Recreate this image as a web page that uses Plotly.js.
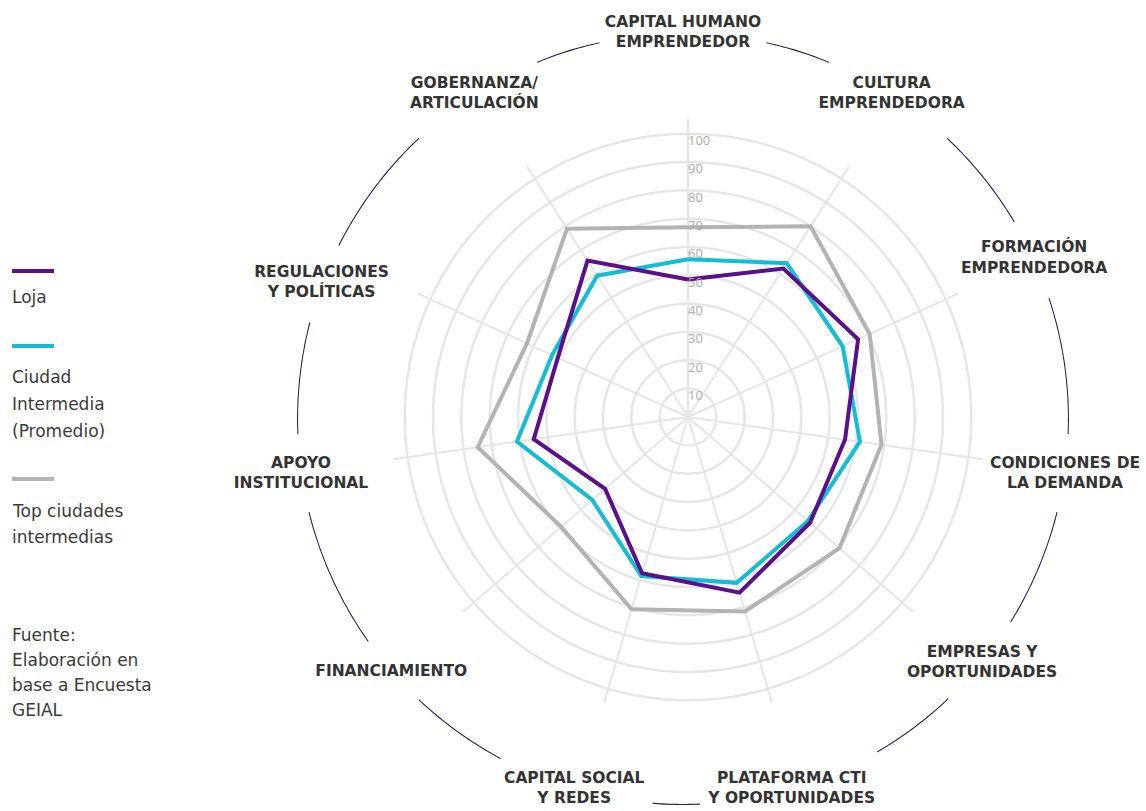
<!DOCTYPE html>
<html>
<head>
<meta charset="utf-8">
<script src="https://cdn.plot.ly/plotly-3.0.1.min.js"></script>
<style>
html,body{margin:0;padding:0;background:#ffffff;}
#chart{width:1146px;height:811px;}
</style>
</head>
<body>
<div id="chart"></div>
<script>
// ---------------- data ----------------
const categories = [
  'CAPITAL HUMANO<br>EMPRENDEDOR',
  'CULTURA<br>EMPRENDEDORA',
  'FORMACIÓN<br>EMPRENDEDORA',
  'CONDICIONES DE<br>LA DEMANDA',
  'EMPRESAS Y<br>OPORTUNIDADES',
  'PLATAFORMA CTI<br>Y OPORTUNIDADES',
  'CAPITAL SOCIAL<br>Y REDES',
  'FINANCIAMIENTO',
  'APOYO<br>INSTITUCIONAL',
  'REGULACIONES<br>Y POLÍTICAS',
  'GOBERNANZA/<br>ARTICULACIÓN'
];
const topValues    = [67, 80, 70.5, 69, 70.7, 71.5, 70.7, 59.2, 75, 62.5, 79];
const ciudadValues = [55.7, 64.5, 60, 61.3, 56, 61, 58.5, 44.7, 61, 52.7, 59.3];
const lojaValues   = [48.5, 62.3, 66, 56, 57, 64.6, 57.5, 38.7, 55, 50.5, 65.6];
const radialTicks  = [10, 20, 30, 40, 50, 60, 70, 80, 90, 100];
const legendLoja   = ['Loja'];
const legendCiudad = ['Ciudad', 'Intermedia', '(Promedio)'];
const legendTop    = ['Top ciudades', 'intermedias'];
const sourceLines  = ['Fuente:', 'Elaboración en', 'base a Encuesta', 'GEIAL'];

// ---------------- layout constants ----------------
const W = 1146, H = 811;
const COLORS = {loja:'#5b0f8b', ciudad:'#13bdd4', top:'#b3b3b5', arc:'#1f1a55', grid:'#e6e6e6', text:'#333333', tick:'#adadad'};
const px2x = p => p / W;
const py2y = p => 1 - p / H;

// main radar: centre and radius (px) of the full radial range
const MAIN = {cx: 688, cy: 417, rPx: 297.5, rMax: 105};
// outer decorative ring
const RING = {cx: 683, cy: 419, rPx: 386};
// small angular nudges of the outer labels (degrees, layout only)
const labelNudgeDeg = [0, 0, 0, 0, -1.7, 0, 0, 0, 0, -4, 0];

function domainFor(c, r) {
  return {x: [(c.cx - r) / W, (c.cx + r) / W], y: [(H - c.cy - r) / H, (H - c.cy + r) / H]};
}

const close = a => a.concat([a[0]]);

const LABEL_FONT = {family: 'DejaVu Sans', size: 15.5, color: COLORS.text, weight: 'bold'};

// --- gap in the outer ring around every label (derived from label text size) ---
const canvas = document.createElement('canvas');
const ctx = canvas.getContext('2d');
ctx.font = 'bold 15.5px "DejaVu Sans"';
const nCat = categories.length;
const labelAngles = categories.map((_, i) => i * 360 / nCat + labelNudgeDeg[i]);
const gaps = categories.map((lab, i) => {
  const lines = lab.split('<br>');
  const w = Math.max(...lines.map(l => ctx.measureText(l).width));
  const a = w / 2 + 5;
  const b = lines.length * 9.5 + 19;
  const phi = labelAngles[i] * Math.PI / 180;
  const c = Math.abs(Math.cos(phi)), s = Math.abs(Math.sin(phi));
  const t = Math.min(c > 1e-6 ? a / c : Infinity, s > 1e-6 ? b / s : Infinity);
  const half = t / RING.rPx * 180 / Math.PI;
  return [labelAngles[i] - half, labelAngles[i] + half];
});
function inGap(th) {
  return gaps.some(([g0, g1]) => {
    let d = ((th - (g0 + g1) / 2) % 360 + 540) % 360 - 180;
    return Math.abs(d) < (g1 - g0) / 2;
  });
}
const arcTheta = [], arcR = [];
for (let th = 0; th <= 360; th += 0.25) {
  arcTheta.push(th);
  arcR.push(inGap(th) ? null : 1);
}

// ---------------- traces ----------------
const lineTrace = (vals, color) => ({
  type: 'scatterpolar', subplot: 'polar', mode: 'lines',
  r: close(vals), theta: close(categories),
  line: {color: color, width: 4, shape: 'linear'},
  hoverinfo: 'skip'
});

const traces = [
  lineTrace(topValues, COLORS.top),
  lineTrace(ciudadValues, COLORS.ciudad),
  lineTrace(lojaValues, COLORS.loja),
  {
    type: 'scatterpolar', subplot: 'polar', mode: 'text',
    r: radialTicks.map(v => v - 2.8), theta: radialTicks.map(() => categories[0]),
    text: radialTicks.map(String), textposition: 'middle right',
    textfont: {family: 'Open Sans', size: 13, color: COLORS.tick},
    hoverinfo: 'skip', cliponaxis: false
  },
  {
    type: 'scatterpolar', subplot: 'polar2', mode: 'lines',
    r: arcR, theta: arcTheta, connectgaps: false,
    line: {color: COLORS.arc, width: 2.2},
    hoverinfo: 'skip', cliponaxis: false
  },
  {
    type: 'scatterpolar', subplot: 'polar2', mode: 'text',
    r: categories.map(() => 1), theta: labelAngles,
    text: categories, textposition: 'middle center',
    textfont: LABEL_FONT, hoverinfo: 'skip', cliponaxis: false
  }
];

// ---------------- legend + source (custom) ----------------
const LEG_FONT = {family: 'DejaVu Sans', size: 17, color: '#3a3a3a'};
const shapes = [];
const annotations = [];
function legendItem(color, lineY, lines, firstY, step) {
  shapes.push({type: 'line', xref: 'paper', yref: 'paper',
    x0: px2x(12), x1: px2x(54), y0: py2y(lineY), y1: py2y(lineY),
    line: {color: color, width: 4}});
  lines.forEach((t, i) => annotations.push({
    xref: 'paper', yref: 'paper', x: px2x(10), y: py2y(firstY + i * step),
    xanchor: 'left', yanchor: 'middle', showarrow: false, text: t, font: LEG_FONT
  }));
}
legendItem(COLORS.loja, 271, legendLoja, 297, 27);
legendItem(COLORS.ciudad, 346, legendCiudad, 377, 27);
legendItem(COLORS.top, 479, legendTop, 511, 26);
sourceLines.forEach((t, i) => annotations.push({
  xref: 'paper', yref: 'paper', x: px2x(10), y: py2y(635 + i * 25),
  xanchor: 'left', yanchor: 'middle', showarrow: false, text: t, font: LEG_FONT
}));

const layout = {
  width: W, height: H,
  margin: {l: 0, r: 0, t: 0, b: 0},
  paper_bgcolor: '#ffffff',
  showlegend: false,
  polar: {
    domain: domainFor(MAIN, MAIN.rPx),
    bgcolor: 'rgba(0,0,0,0)',
    radialaxis: {range: [0, MAIN.rMax], tickvals: radialTicks, showticklabels: false, ticks: '',
      showline: false, gridcolor: COLORS.grid, gridwidth: 2.5, angle: 90},
    angularaxis: {type: 'category', categoryarray: categories, rotation: 90, direction: 'clockwise',
      showticklabels: false, ticks: '', showline: false, gridcolor: COLORS.grid, gridwidth: 2}
  },
  polar2: {
    domain: domainFor(RING, RING.rPx),
    bgcolor: 'rgba(0,0,0,0)',
    radialaxis: {range: [0, 1], visible: false},
    angularaxis: {type: 'linear', rotation: 90, direction: 'clockwise', visible: false}
  },
  shapes: shapes,
  annotations: annotations
};

Plotly.newPlot('chart', traces, layout, {displayModeBar: false, staticPlot: true});
</script>
</body>
</html>
